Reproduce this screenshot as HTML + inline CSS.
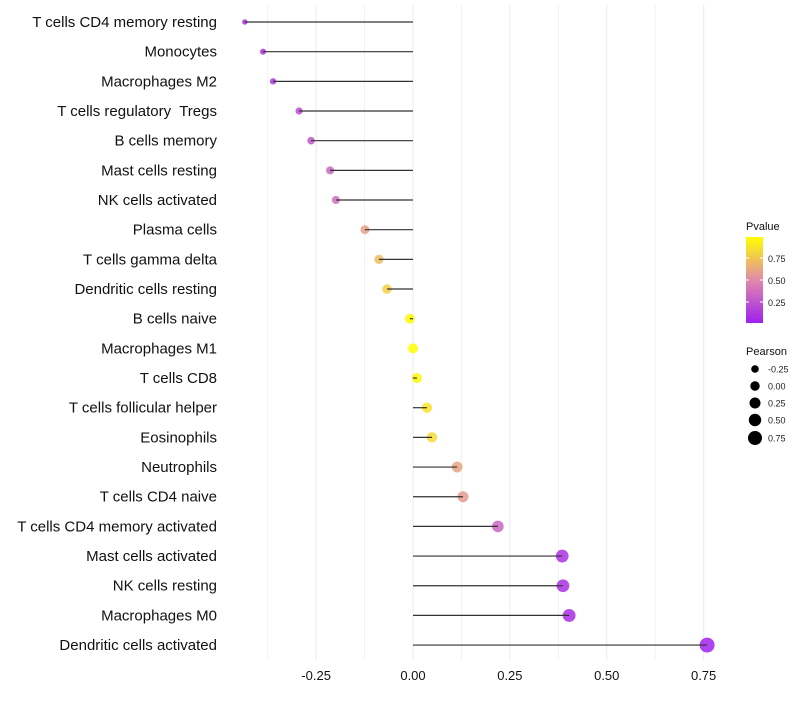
<!DOCTYPE html>
<html><head><meta charset="utf-8"><style>
html,body{margin:0;padding:0;background:#fff}
svg text{font-family:"Liberation Sans",sans-serif;white-space:pre}
</style></head><body>
<svg id="s" width="800" height="700" xmlns="http://www.w3.org/2000/svg"></svg>
<script>
const d=[["T cells CD4 memory resting",-0.434,0.05],["Monocytes",-0.387,0.1],["Macrophages M2",-0.361,0.12],["T cells regulatory  Tregs",-0.294,0.2],["B cells memory",-0.263,0.25],["Mast cells resting",-0.214,0.33],["NK cells activated",-0.199,0.38],["Plasma cells",-0.124,0.6],["T cells gamma delta",-0.088,0.72],["Dendritic cells resting",-0.067,0.8],["B cells naive",-0.008,0.98],["Macrophages M1",0,1],["T cells CD8",0.01,0.97],["T cells follicular helper",0.036,0.88],["Eosinophils",0.049,0.84],["Neutrophils",0.114,0.62],["T cells CD4 naive",0.129,0.57],["T cells CD4 memory activated",0.219,0.33],["Mast cells activated",0.385,0.08],["NK cells resting",0.387,0.08],["Macrophages M0",0.403,0.06],["Dendritic cells activated",0.759,0.01]];
const X=v=>413+v*387.5,Y=i=>22+i*29.67;
function lerp(a,b,t){return a.map((x,i)=>Math.round(x+(b[i]-x)*t));}
function col(p){const s=[[160,32,240],[224,138,170],[255,255,0]];const c=p<0.5?lerp(s[0],s[1],p/0.5):lerp(s[1],s[2],(p-0.5)/0.5);return`rgb(${c})`;}
const R=v=>Math.sqrt(Math.max(5,25+40.8*v));
let h='';
[-0.375,-0.25,-0.125,0,0.125,0.25,0.375,0.5,0.625,0.75].forEach(v=>{h+=`<line x1="${X(v)}" x2="${X(v)}" y1="5" y2="660" stroke="#ebebeb" stroke-width="${Math.abs(v*4%1)<1e-6?1:0.6}"/>`});
d.forEach((r,i)=>{const y=Y(i);
h+=`<text x="217" y="${y+5}" font-size="15" text-anchor="end" fill="#111" xml:space="preserve">${r[0]}</text>`;
h+=`<circle cx="${X(r[1])}" cy="${y}" r="${R(r[1])}" fill="${col(r[2])}" opacity="0.85"/>`;
h+=`<line x1="${X(r[1])}" x2="413" y1="${y}" y2="${y}" stroke="#333" stroke-width="1.2"/>`;});
[-0.25,0,0.25,0.5,0.75].forEach(v=>{h+=`<text x="${X(v)}" y="680" font-size="13" text-anchor="middle" fill="#111">${v.toFixed(2)}</text>`});
h+=`<defs><linearGradient id="g" x1="0" y1="1" x2="0" y2="0"><stop offset="0" stop-color="${col(0)}"/><stop offset="0.5" stop-color="${col(0.5)}"/><stop offset="1" stop-color="${col(1)}"/></linearGradient></defs>`;
h+=`<text x="746" y="230" font-size="11" fill="#111">Pvalue</text><rect x="746" y="237" width="17" height="86" fill="url(#g)"/>`;
[[0.75,258],[0.5,280],[0.25,302]].forEach(a=>{h+=`<text x="768" y="${a[1]+4}" font-size="9" fill="#222">${a[0].toFixed(2)}</text><line x1="746" x2="749" y1="${a[1]}" y2="${a[1]}" stroke="#fff"/><line x1="760" x2="763" y1="${a[1]}" y2="${a[1]}" stroke="#fff"/>`});
h+=`<text x="746" y="355" font-size="11" fill="#111">Pearson</text>`;
[[-0.25,369,3.8],[0,386,4.7],[0.25,403,5.5],[0.5,420,6.2],[0.75,438,7]].forEach(a=>{h+=`<circle cx="755" cy="${a[1]}" r="${a[2]}" fill="#000"/><text x="768" y="${a[1]+3.5}" font-size="9" fill="#222">${a[0].toFixed(2)}</text>`});
document.getElementById('s').innerHTML=h;
</script>
</body></html>
